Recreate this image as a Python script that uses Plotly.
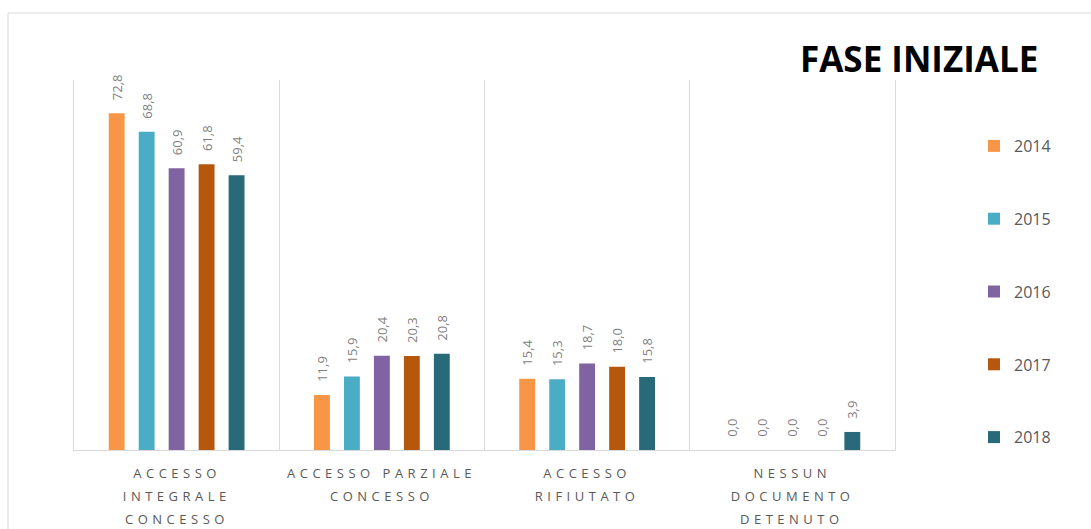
import plotly.graph_objects as go

categories = ["ACCESSO<br>INTEGRALE<br>CONCESSO", "ACCESSO PARZIALE<br>CONCESSO",
              "ACCESSO<br>RIFIUTATO", "NESSUN<br>DOCUMENTO<br>DETENUTO"]
years = ["2014", "2015", "2016", "2017", "2018"]
v2014 = [72.8, 11.9, 15.4, 0.0]
v2015 = [68.8, 15.9, 15.3, 0.0]
v2016 = [60.9, 20.4, 18.7, 0.0]
v2017 = [61.8, 20.3, 18.0, 0.0]
v2018 = [59.4, 20.8, 15.8, 3.9]
series = [v2014, v2015, v2016, v2017, v2018]
colors = ["#F79646", "#4BACC6", "#8064A2", "#B5570C", "#28697A"]

x = list(range(len(categories)))
fig = go.Figure()
for i, (yr, vals, col) in enumerate(zip(years, series, colors)):
    fig.add_trace(go.Bar(
        x=x, y=vals, name=yr, marker_color=col, marker_line_width=0,
        text=["\u00a0\u00a0\u00a0" + f"{v:.1f}".replace(".", ",") for v in vals],
        textposition="outside", textangle=-90, constraintext="none",
        textfont=dict(family="Open Sans", size=13, color="#7F7F7F"),
        cliponaxis=False, legendgroup=yr,
    ))

annotations = [dict(text="<b>FASE INIZIALE</b>", xref="paper", yref="paper",
                    x=(1040 - 74) / 821, y=(450 - 59) / 370,
                    xanchor="right", yanchor="middle", showarrow=False,
                    font=dict(family="Open Sans", size=35, color="#000000"))]
for i, cat in enumerate(categories):
    for k, line in enumerate(cat.split("<br>")):
        annotations.append(dict(
            text=line, x=i, xref="x", y=0, yref="paper",
            xanchor="center", yanchor="middle", yshift=-(23 + 23 * k),
            showarrow=False,
            font=dict(family="Open Sans", size=13, color="#595959")))

fig.update_layout(
    width=1091, height=529,
    margin=dict(l=74, r=196, t=80, b=79),
    paper_bgcolor="white", plot_bgcolor="white",
    barmode="group", bargap=0.27, bargroupgap=0.47,
    font=dict(family="Open Sans", color="#595959"),
    showlegend=True,
    legend=dict(x=(974 - 74) / 821, xanchor="left", y=(450 - 129) / 370, yanchor="top",
                font=dict(size=16, color="#595959"),
                tracegroupgap=49, traceorder="grouped",
                itemwidth=30, bgcolor="rgba(0,0,0,0)"),
    xaxis=dict(range=[-0.5, 3.5], tickvals=x, ticktext=[""] * len(x),
               showgrid=False, showline=True, linecolor="#D9D9D9", linewidth=1,
               ticks="",
               minor=dict(tickvals=[0.5, 1.5, 2.5], showgrid=True,
                          gridcolor="#D9D9D9", gridwidth=1),
               zeroline=False, fixedrange=True),
    yaxis=dict(range=[0, 80], showgrid=False, showticklabels=False,
               showline=True, mirror=True, linecolor="#D9D9D9", linewidth=1,
               ticks="", zeroline=False, fixedrange=True),
    annotations=annotations,
    shapes=[dict(type="rect", xref="paper", yref="paper",
                 x0=(8 - 74) / 821, x1=(1095 - 74) / 821,
                 y0=(450 - 535) / 370, y1=(450 - 13) / 370,
                 line=dict(color="#D9D9D9", width=1), layer="below")],
)

post = """
var gd = document.getElementById('{plot_id}');
gd.querySelectorAll('.annotation-text').forEach(function(t){
  if (t.textContent.indexOf('FASE') < 0) { t.style.letterSpacing = '4.5px'; }
});
"""
fig.write_html("out.html", post_script=post)
